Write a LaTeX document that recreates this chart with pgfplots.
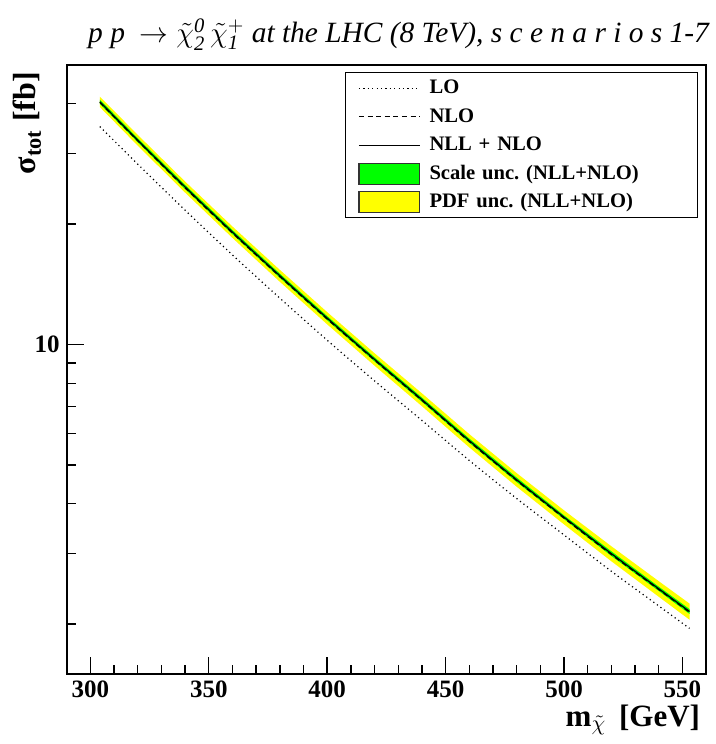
\documentclass[border=0pt]{standalone}
\usepackage{fontspec}
\setmainfont{Liberation Serif}
\usepackage{pgfplots}
\usepackage{pgfplotstable}
\pgfplotsset{compat=1.18}
\usepgfplotslibrary{fillbetween}
\frenchspacing

\pgfplotsset{
 lineleg/.style={legend image code/.code={\draw[##1] (0pt,0pt) -- (30.3pt,0pt);}},
 boxleg/.style={legend image code/.code={\draw[##1] (0pt,-5.2pt) rectangle (30.3pt,5.2pt);}},
}

\pgfplotstableread{
x    nll    nlo    lo     pdfup  pdflo  scup   sclo
304  40.46  40.30  35.08  41.67  39.25  40.95  39.97
320  32.43  32.30  28.25  33.44  31.42  32.82  32.04
340  24.77  24.65  21.67  25.56  23.98  25.07  24.47
360  19.10  19.00  16.75  19.73  18.47  19.33  18.87
380  14.86  14.79  13.06  15.37  14.35  15.04  14.68
400  11.64  11.58  10.25  12.05  11.23  11.78  11.50
420  9.18   9.14   8.11   9.51   8.85   9.29   9.07
440  7.28   7.25   6.46   7.55   7.01   7.37   7.19
460  5.75   5.72   5.13   5.97   5.53   5.82   5.68
480  4.59   4.57   4.12   4.77   4.41   4.65   4.53
500  3.70   3.68   3.34   3.85   3.55   3.74   3.66
520  3.00   2.985  2.71   3.13   2.87   3.04   2.96
540  2.45   2.44   2.22   2.56   2.34   2.48   2.42
553  2.15   2.14   1.95   2.25   2.05   2.18   2.12
}\data

\begin{document}
\begin{tikzpicture}
\begin{axis}[
  scale only axis, width=319.7pt, height=304.5pt,
  xmin=290, xmax=560, ymode=log, ymin=1.5, ymax=50,
  clip mode=individual,
  axis line style={line width=0.9pt},
  xtick={300,350,...,550}, minor x tick num=4,
  xtick pos=bottom, ytick pos=left,
  ytick={10}, yticklabels={10},
  minor ytick={2,3,4,5,6,7,8,9,20,30,40},
  major tick length=8.7pt, minor tick length=4.7pt,
  tick style={line width=0.7pt, black},
  /pgf/number format/assume math mode=true,
  /pgf/number format/1000 sep={},
  ticklabel style={font=\fontsize{12.5}{14}\selectfont\bfseries},
  legend cell align=left,
  legend style={at={(rel axis cs:0.9875,0.9885)}, anchor=north east,
    draw=black, line width=0.6pt, inner xsep=6.5pt, inner ysep=0.7pt,
    column sep=4.7pt, row sep=0pt,
    font=\fontsize{10.3}{12}\selectfont\bfseries,
    nodes={inner xsep=0pt, inner ysep=0pt, minimum height=14.25pt, text width=127.5pt, align=left}},
]
\addlegendimage{lineleg, black, line width=0.6pt, dash pattern=on 0.6pt off 1.6pt}
\addlegendentry{LO}
\addlegendimage{lineleg, black, line width=0.6pt, dash pattern=on 2.5pt off 1.8pt}
\addlegendentry{NLO}
\addlegendimage{lineleg, black, line width=0.6pt}
\addlegendentry{NLL + NLO}
\addlegendimage{boxleg, fill={rgb,255:red,0;green,255;blue,0}, draw=black!80, line width=0.6pt}
\addlegendentry{Scale unc. (NLL+NLO)}
\addlegendimage{boxleg, fill={rgb,255:red,255;green,255;blue,0}, draw=black!80, line width=0.6pt}
\addlegendentry{PDF unc. (NLL+NLO)}

\addplot[name path=pu, draw=none, forget plot] table[x=x, y=pdfup]{\data};
\addplot[name path=pl, draw=none, forget plot] table[x=x, y=pdflo]{\data};
\addplot[fill={rgb,255:red,255;green,255;blue,0}, draw=none, forget plot] fill between[of=pu and pl];
\addplot[name path=su, draw=none, forget plot] table[x=x, y=scup]{\data};
\addplot[name path=sl, draw=none, forget plot] table[x=x, y=sclo]{\data};
\addplot[fill={rgb,255:red,0;green,255;blue,0}, draw=none, forget plot] fill between[of=su and sl];

\addplot[black, line width=0.6pt, dash pattern=on 0.6pt off 1.6pt, smooth, forget plot] table[x=x, y=lo]{\data};
\addplot[black, line width=0.6pt, smooth, forget plot] table[x=x, y=nll]{\data};
\addplot[black, line width=0.6pt, dash pattern=on 2.5pt off 1.8pt, smooth, forget plot] table[x=x, y=nlo]{\data};

\node[anchor=base, font=\fontsize{14.7}{17}\selectfont\itshape] at (rel axis cs:0.519,1) [yshift=11pt]
  {p p \ $\rightarrow\tilde{\chi}^{\mathit{0}}_{\mathit{2}}\,\tilde{\chi}^{+}_{\mathit{1}}$ at the LHC (8 TeV), s c e n a r i o s 1-7};
\node[anchor=base east, font=\fontsize{15.5}{17}\selectfont\bfseries] at (rel axis cs:1,0) [yshift=-26pt, xshift=0.5pt]
  {m$_{\tilde{\chi}}$\, [GeV]};
\node[rotate=90, anchor=base east, font=\fontsize{16}{18}\selectfont\bfseries] at (rel axis cs:0,1) [yshift=15.5pt]
  {σ\textsubscript{tot} [fb]};
\end{axis}
\path (current axis.south west) ++(-33.35pt,-35pt) rectangle ++(355pt,372pt);
\end{tikzpicture}
\end{document}
